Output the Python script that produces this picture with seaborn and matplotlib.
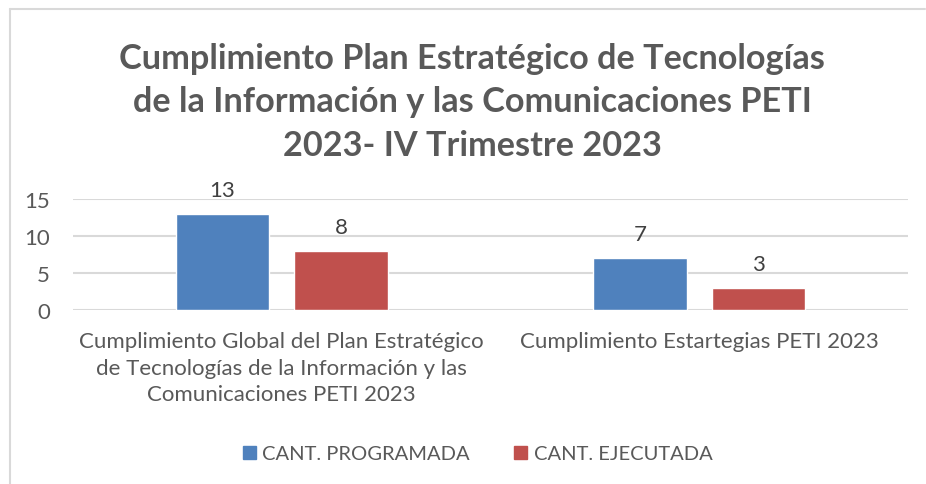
import pandas as pd
import matplotlib.pyplot as plt
import seaborn as sns
from matplotlib.lines import Line2D

# Data
categorias = [
    "Cumplimiento Global del Plan Estratégico\nde Tecnologías de la Información y las\nComunicaciones PETI 2023",
    "Cumplimiento Estartegias PETI 2023",
]
series = ["CANT. PROGRAMADA", "CANT. EJECUTADA"]
programada = [13, 7]
ejecutada = [8, 3]
colores = ["#4f81bd", "#c0504d"]

df = pd.DataFrame({
    "categoria": categorias * 2,
    "serie": [series[0]] * 2 + [series[1]] * 2,
    "valor": programada + ejecutada,
})

sns.set_theme(style="white")
plt.rcParams['font.family'] = ['Lato', 'DejaVu Sans']
gris = "#595959"

fig = plt.figure(figsize=(9.26, 4.85), dpi=100)
ax = fig.add_axes([0.0788, 0.3588, 0.9018, 0.2288])

sns.barplot(data=df, x="categoria", y="valor", hue="serie", palette=colores,
            width=0.568, gap=0.215, saturation=1, ax=ax, legend=False)

ax.set_ylim(0, 15)
ax.set_yticks([0, 5, 10, 15])
ax.set_xlim(-0.5, 1.5)
ax.yaxis.grid(True, color="#d9d9d9", linewidth=1.5)
ax.set_axisbelow(True)
sns.despine(ax=ax, left=True, bottom=True)
ax.set_xlabel("")
ax.set_ylabel("")
ax.tick_params(axis="y", length=0, pad=16.5, labelsize=16, labelcolor=gris)
ax.tick_params(axis="x", length=0, pad=15, labelsize=16, labelcolor=gris)
for lbl in ax.get_xticklabels():
    lbl.set_linespacing(1.42)

for cont in ax.containers:
    ax.bar_label(cont, padding=10, fontsize=16, color="#404040")

fig.text(0.51, 0.789,
         "Cumplimiento Plan Estratégico de Tecnologías\nde la Información y las Comunicaciones PETI\n2023- IV Trimestre 2023",
         ha="center", va="center", multialignment="center",
         fontsize=24.7, fontweight="bold", color=gris, linespacing=1.45)

handles = [plt.Rectangle((0, 0), 1, 1, color=c) for c in colores]
fig.legend(handles, series, loc="center", bbox_to_anchor=(0.516, 0.062), ncol=2,
           frameon=False, fontsize=14.5, labelcolor=gris, handlelength=0.65,
           handleheight=0.65, handletextpad=0.3, columnspacing=2.2)

# chart border (top and left visible)
fig.add_artist(Line2D([0.011, 0.999], [0.979, 0.979], color="#d9d9d9", linewidth=1.5))
fig.add_artist(Line2D([0.011, 0.011], [0.0, 0.979], color="#d9d9d9", linewidth=1.5))

fig.savefig("out.png", dpi=100)
